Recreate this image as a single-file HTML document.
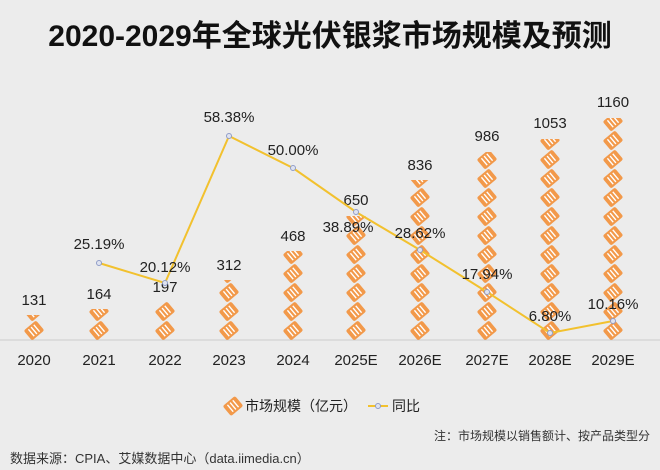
<!DOCTYPE html>
<html><head><meta charset="utf-8"><style>
body{margin:0;background:#ececec;}
svg{display:block;font-family:"Liberation Sans","Noto Sans CJK SC",sans-serif;}
</style></head><body>
<svg width="660" height="470" viewBox="0 0 660 470">
<rect width="660" height="470" fill="#ececec"/>
<text x="330" y="46" text-anchor="middle" font-size="30" font-weight="bold" fill="#111">2020-2029年全球光伏银浆市场规模及预测</text>
<defs>
<g id="ic">
<g transform="rotate(-40)">
<rect x="-8" y="-6.5" width="16" height="13" rx="2" fill="#f2994a"/>
<line x1="-3.5" y1="-4.5" x2="-3.5" y2="4.5" stroke="#fff" stroke-width="1.4"/>
<line x1="0" y1="-4.5" x2="0" y2="4.5" stroke="#fff" stroke-width="1.4"/>
<line x1="3.5" y1="-4.5" x2="3.5" y2="4.5" stroke="#fff" stroke-width="1.4"/>
</g>
</g>
<g id="c12">
<use href="#ic" x="0" y="-9.5"/><use href="#ic" x="0" y="-28.5"/><use href="#ic" x="0" y="-47.5"/><use href="#ic" x="0" y="-66.5"/>
<use href="#ic" x="0" y="-85.5"/><use href="#ic" x="0" y="-104.5"/><use href="#ic" x="0" y="-123.5"/><use href="#ic" x="0" y="-142.5"/>
<use href="#ic" x="0" y="-161.5"/><use href="#ic" x="0" y="-180.5"/><use href="#ic" x="0" y="-199.5"/><use href="#ic" x="0" y="-218.5"/>
</g>
<clipPath id="k0"><rect x="0" y="315" width="660" height="26"/></clipPath>
<clipPath id="k1"><rect x="0" y="309" width="660" height="32"/></clipPath>
<clipPath id="k2"><rect x="0" y="302" width="660" height="39"/></clipPath>
<clipPath id="k3"><rect x="0" y="280" width="660" height="61"/></clipPath>
<clipPath id="k4"><rect x="0" y="251" width="660" height="90"/></clipPath>
<clipPath id="k5"><rect x="0" y="216" width="660" height="125"/></clipPath>
<clipPath id="k6"><rect x="0" y="180" width="660" height="161"/></clipPath>
<clipPath id="k7"><rect x="0" y="152" width="660" height="189"/></clipPath>
<clipPath id="k8"><rect x="0" y="139" width="660" height="202"/></clipPath>
<clipPath id="k9"><rect x="0" y="118" width="660" height="223"/></clipPath>
</defs>
<line x1="0" y1="340" x2="660" y2="340" stroke="#ccc" stroke-width="1"/>
<g clip-path="url(#k0)"><use href="#c12" x="34" y="340"/></g>
<g clip-path="url(#k1)"><use href="#c12" x="99" y="340"/></g>
<g clip-path="url(#k2)"><use href="#c12" x="165" y="340"/></g>
<g clip-path="url(#k3)"><use href="#c12" x="229" y="340"/></g>
<g clip-path="url(#k4)"><use href="#c12" x="293" y="340"/></g>
<g clip-path="url(#k5)"><use href="#c12" x="356" y="340"/></g>
<g clip-path="url(#k6)"><use href="#c12" x="420" y="340"/></g>
<g clip-path="url(#k7)"><use href="#c12" x="487" y="340"/></g>
<g clip-path="url(#k8)"><use href="#c12" x="550" y="340"/></g>
<g clip-path="url(#k9)"><use href="#c12" x="613" y="340"/></g>
<g font-size="15" fill="#222" text-anchor="middle">
<text x="34" y="305">131</text><text x="99" y="299">164</text><text x="165" y="292">197</text><text x="229" y="270">312</text><text x="293" y="241">468</text><text x="356" y="205">650</text><text x="420" y="170">836</text><text x="487" y="141">986</text><text x="550" y="128">1053</text><text x="613" y="107">1160</text>
</g>
<polyline points="99,263 165,283 229,136 293,168 356,212 420,250 487,292 550,333 613,321" fill="none" stroke="#f2c12e" stroke-width="2"/>
<g fill="#dfe3f0" stroke="#8f9cc8" stroke-width="1">
<circle cx="99" cy="263" r="2.5"/><circle cx="165" cy="283" r="2.5"/><circle cx="229" cy="136" r="2.5"/><circle cx="293" cy="168" r="2.5"/><circle cx="356" cy="212" r="2.5"/><circle cx="420" cy="250" r="2.5"/><circle cx="487" cy="292" r="2.5"/><circle cx="550" cy="333" r="2.5"/><circle cx="613" cy="321" r="2.5"/>
</g>
<g font-size="15" fill="#222" text-anchor="middle">
<text x="99" y="249">25.19%</text><text x="165" y="272">20.12%</text><text x="229" y="122">58.38%</text><text x="293" y="155">50.00%</text><text x="348" y="232">38.89%</text><text x="420" y="238">28.62%</text><text x="487" y="279">17.94%</text><text x="550" y="321">6.80%</text><text x="613" y="309">10.16%</text>
</g>
<g font-size="15" fill="#222" text-anchor="middle">
<text x="34" y="365">2020</text><text x="99" y="365">2021</text><text x="165" y="365">2022</text><text x="229" y="365">2023</text><text x="293" y="365">2024</text><text x="356" y="365">2025E</text><text x="420" y="365">2026E</text><text x="487" y="365">2027E</text><text x="550" y="365">2028E</text><text x="613" y="365">2029E</text>
</g>
<use href="#ic" x="233" y="406"/>
<text x="245" y="411" font-size="14" fill="#222">市场规模（亿元）</text>
<line x1="368" y1="406" x2="388" y2="406" stroke="#f2c12e" stroke-width="2"/>
<circle cx="378" cy="406" r="2.5" fill="#dfe3f0" stroke="#8f9cc8"/>
<text x="392" y="411" font-size="14" fill="#222">同比</text>
<text x="650" y="440" font-size="12" fill="#333" text-anchor="end">注：市场规模以销售额计、按产品类型分</text>
<text x="10" y="463" font-size="13" fill="#333">数据来源：CPIA、艾媒数据中心（data.iimedia.cn）</text>
</svg>
</body></html>
